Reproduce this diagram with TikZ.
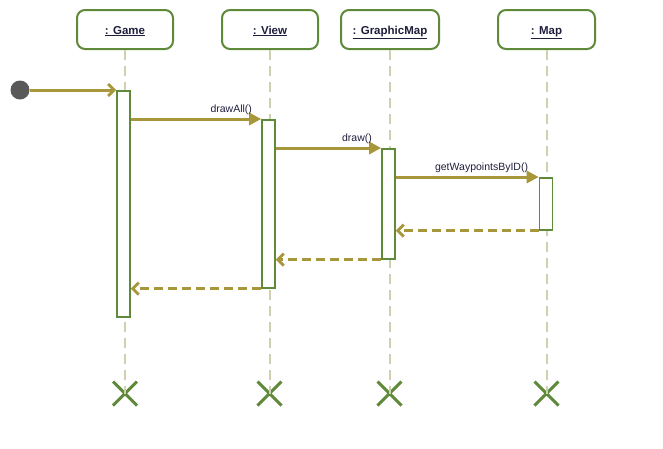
\documentclass[tikz,border=0pt]{standalone}
\usepackage{fontspec}
\setmainfont{Liberation Sans}
\usetikzlibrary{arrows.meta,shapes.misc}
\definecolor{boxgreen}{HTML}{5F8A3A}
\definecolor{lifeline}{HTML}{CFCFB2}
\definecolor{msg}{HTML}{A8963A}
\definecolor{txt}{HTML}{1E1E3C}
\tikzset{
  obj/.style={draw=boxgreen, line width=2pt, rounded corners=8pt, fill=white,
    minimum height=39pt, inner sep=0pt, text height=12pt, text depth=3pt,
    font=\fontsize{11.5}{13}\selectfont\bfseries, text=txt},
  life/.style={draw=lifeline, line width=2pt, dash pattern=on 10pt off 6pt},
  actbar/.style={draw=boxgreen, line width=1.6pt, fill=white, minimum width=13pt, inner sep=0pt, anchor=north},
  call/.style={draw=msg, line width=3pt, -{Triangle[length=12pt,width=12pt]}},
  found/.style={draw=msg, line width=3pt, -{Straight Barb[length=6pt,width=12pt,line width=2.8pt]}},
  reply/.style={draw=msg, line width=3pt, dash pattern=on 9pt off 5pt, -{Straight Barb[length=6pt,width=12pt,line width=2.8pt]}},
  destroy/.style={cross out, draw=boxgreen, line width=3pt, minimum size=21pt, inner sep=0pt},
  lbl/.style={font=\fontsize{10.5}{12}\selectfont, text=txt, above, inner sep=3pt},
  start/.style={circle, fill=black!65, minimum size=19pt, inner sep=0pt}
}
\begin{document}
\begin{tikzpicture}[x=1pt,y=-1pt]
\useasboundingbox (0,0) rectangle (663,448);
% object headers
\node[obj, minimum width=96pt] (game) at (125,29.5) {\underline{: Game}};
\node[obj, minimum width=96pt] (view) at (270,29.5) {\underline{: View}};
\node[obj, minimum width=98pt] (gmap) at (390,29.5) {\underline{: GraphicMap}};
\node[obj, minimum width=97pt] (map) at (546.5,29.5) {\underline{: Map}};
% destruction marks
\node[destroy] (gameX) at (125,393.5) {};
\node[destroy] (viewX) at (269.5,393.5) {};
\node[destroy] (gmapX) at (389.5,393.5) {};
\node[destroy] (mapX) at (546.5,393.5) {};
% lifelines
\draw[life] (game.south -| gameX) -- (gameX.center);
\draw[life] (view.south -| viewX) -- (viewX.center);
\draw[life] (gmap.south -| gmapX) -- (gmapX.center);
\draw[life] (map.south -| mapX) -- (mapX.center);
% activation bars
\node[actbar, minimum height=226pt] (gameA) at (123.5,90) {};
\node[actbar, minimum height=168pt] (viewA) at (268.5,119) {};
\node[actbar, minimum height=110pt] (gmapA) at (388.5,148) {};
\node[actbar, minimum height=52pt] (mapA) at (546,177) {};
% initial
\node[start] (init) at (20,90) {};
\draw[found] (init) -- (gameA.north west);
% calls
\draw[call] (gameA.east |- viewA.north) -- node[lbl, pos=0.77] {drawAll()} (viewA.north west);
\draw[call] (viewA.east |- gmapA.north) -- node[lbl, pos=0.77] {draw()} (gmapA.north west);
\draw[call] (gmapA.east |- mapA.north) -- node[lbl, pos=0.6] {getWaypointsByID()} (mapA.north west);
% replies
\draw[reply] (mapA.south west) -- (gmapA.east |- mapA.south);
\draw[reply] (gmapA.south west) -- (viewA.east |- gmapA.south);
\draw[reply] (viewA.south west) -- (gameA.east |- viewA.south);
\end{tikzpicture}
\end{document}
